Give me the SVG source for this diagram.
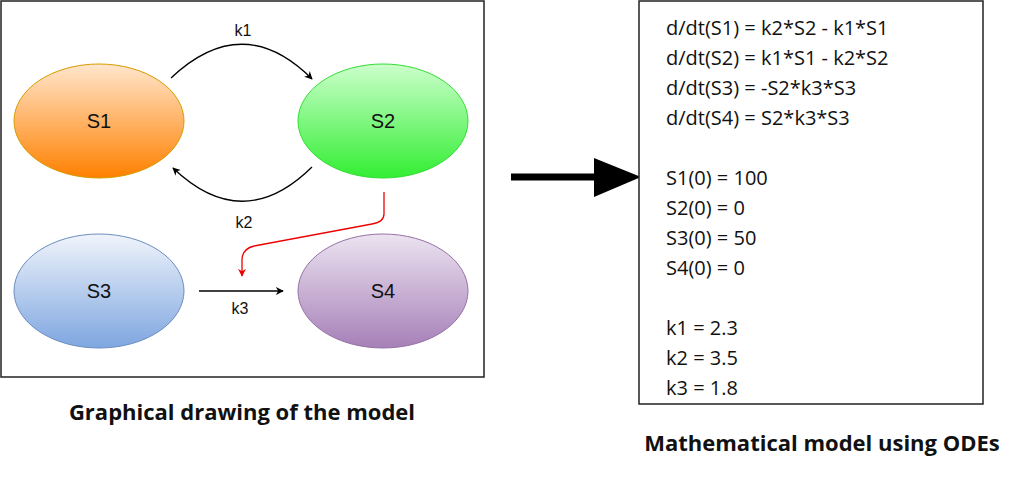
<svg xmlns="http://www.w3.org/2000/svg" width="1024" height="477" viewBox="0 0 1024 477">
<style>
.n{font-family:"Liberation Sans",Arial,sans-serif;font-size:20px;fill:#111;text-anchor:middle}
.l{font-family:"Liberation Sans",Arial,sans-serif;font-size:16px;fill:#111;text-anchor:middle}
.eq{font-family:"Open Sans","Liberation Sans",sans-serif;font-size:20px;fill:#111}
.t{font-family:"Open Sans","Liberation Sans",sans-serif;font-size:22px;font-weight:bold;fill:#111;text-anchor:middle}
.c{fill:none;stroke:#000;stroke-width:1.3}
</style>
<defs>
<linearGradient id="g1" x1="0" y1="0" x2="0" y2="1"><stop offset="0" stop-color="#ffe6cc"/><stop offset="1" stop-color="#ff8000"/></linearGradient>
<linearGradient id="g2" x1="0" y1="0" x2="0" y2="1"><stop offset="0" stop-color="#ccffcc"/><stop offset="1" stop-color="#33ee33"/></linearGradient>
<linearGradient id="g3" x1="0" y1="0" x2="0" y2="1"><stop offset="0" stop-color="#f0f4fb"/><stop offset="1" stop-color="#7ea6e0"/></linearGradient>
<linearGradient id="g4" x1="0" y1="0" x2="0" y2="1"><stop offset="0" stop-color="#ece3f0"/><stop offset="1" stop-color="#a680b8"/></linearGradient>
<marker id="a" viewBox="0 0 10 10" refX="9" refY="5" markerWidth="8" markerHeight="8" markerUnits="userSpaceOnUse" orient="auto"><path d="M0,0 L10,5 L0,10 L3,5 Z" fill="#000"/></marker>
<marker id="ar" viewBox="0 0 10 10" refX="9" refY="5" markerWidth="8" markerHeight="8" markerUnits="userSpaceOnUse" orient="auto"><path d="M0,0 L10,5 L0,10 L3,5 Z" fill="#e00"/></marker>
</defs>
<rect x="1" y="1" width="483" height="376" fill="#fff" stroke="#222" stroke-width="1.5"/>
<g id="S1"><ellipse cx="99" cy="121" rx="85" ry="57" fill="url(#g1)" stroke="#d79b00"/><text class="n" x="99" y="128">S1</text></g>
<g id="S2"><ellipse cx="383" cy="121" rx="85" ry="57" fill="url(#g2)" stroke="#33dd33"/><text class="n" x="383" y="128">S2</text></g>
<g id="S3"><ellipse cx="99" cy="291" rx="85" ry="57" fill="url(#g3)" stroke="#6c8ebf"/><text class="n" x="99" y="298">S3</text></g>
<g id="S4"><ellipse cx="383" cy="291" rx="85" ry="57" fill="url(#g4)" stroke="#9673a6"/><text class="n" x="383" y="298">S4</text></g>
<g id="connectors">
<path class="c" d="M171,78 Q243,10 312,79" marker-end="url(#a)"/>
<text class="l" x="243" y="36">k1</text>
<path class="c" d="M312,167 Q243,235 173,168" marker-end="url(#a)"/>
<text class="l" x="244" y="228">k2</text>
<path fill="none" stroke="#e00" stroke-width="1.3" d="M384,192 L384,214 Q384,222 372,224 L254,246 Q242,249 242,260 L242,276" marker-end="url(#ar)"/>
<path class="c" d="M199,291 L283,291" marker-end="url(#a)"/>
<text class="l" x="240" y="314">k3</text>
<path d="M511,177 L600,177" stroke="#000" stroke-width="7"/>
<path d="M594,158 L641,177 L594,197 Z" fill="#000"/>
</g>
<text class="t" x="242" y="420">Graphical drawing of the model</text>
<rect x="639" y="1" width="344" height="403" fill="#fff" stroke="#222" stroke-width="1.5"/>
<g id="odes" class="eq">
<text x="666" y="35">d/dt(S1) = k2*S2 - k1*S1</text>
<text x="666" y="65">d/dt(S2) = k1*S1 - k2*S2</text>
<text x="666" y="95">d/dt(S3) = -S2*k3*S3</text>
<text x="666" y="125">d/dt(S4) = S2*k3*S3</text>
<text x="666" y="185">S1(0) = 100</text>
<text x="666" y="215">S2(0) = 0</text>
<text x="666" y="245">S3(0) = 50</text>
<text x="666" y="275">S4(0) = 0</text>
<text x="666" y="335">k1 = 2.3</text>
<text x="666" y="365">k2 = 3.5</text>
<text x="666" y="395">k3 = 1.8</text>
</g>
<text class="t" x="822" y="451">Mathematical model using ODEs</text>
</svg>
